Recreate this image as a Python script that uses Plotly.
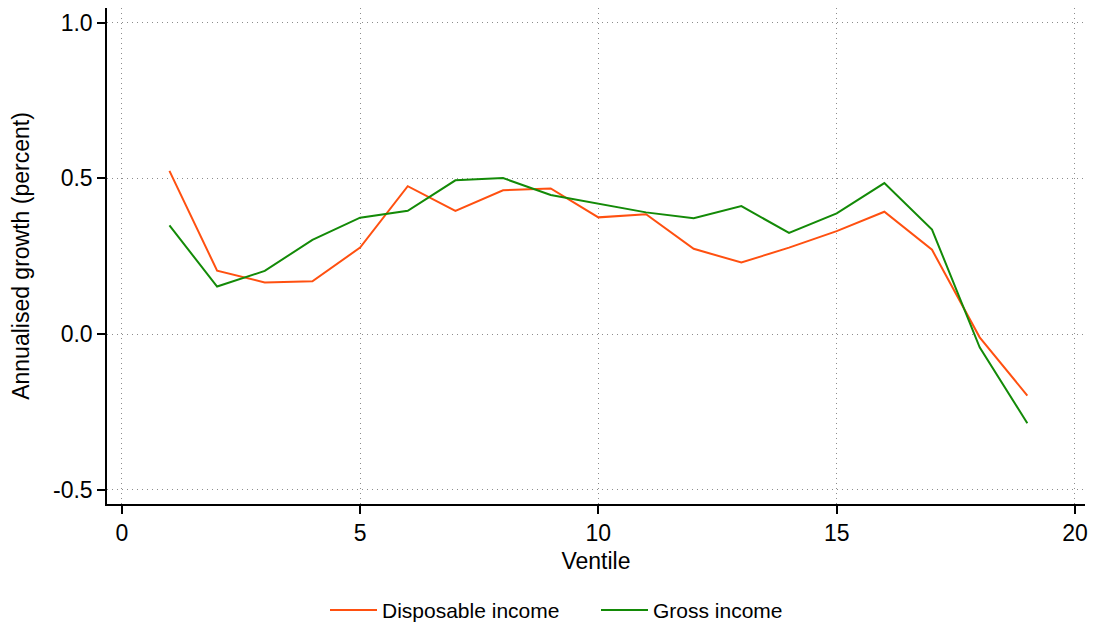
import plotly.graph_objects as go

# Annualised growth by income ventile
ventile = list(range(1, 20))
disposable_income = [0.524, 0.204, 0.166, 0.170, 0.278, 0.475, 0.396, 0.462, 0.468, 0.375,
                     0.385, 0.274, 0.230, 0.278, 0.331, 0.393, 0.271, -0.010, -0.197]
gross_income = [0.349, 0.153, 0.203, 0.303, 0.374, 0.396, 0.494, 0.501, 0.447, 0.419,
                0.391, 0.372, 0.411, 0.325, 0.388, 0.485, 0.336, -0.042, -0.286]

x_ticks = [0, 5, 10, 15, 20]
y_ticks = [-0.5, 0.0, 0.5, 1.0]
y_tick_labels = [f"{v:.1f}" for v in y_ticks]

FONT = "Liberation Sans, Arial, Helvetica, sans-serif"
FS = 23
LEGEND_FS = 21

fig = go.Figure()
fig.add_trace(go.Scatter(x=ventile, y=disposable_income, mode="lines",
                         name="Disposable income",
                         line=dict(color="#ff5010", width=2)))
fig.add_trace(go.Scatter(x=ventile, y=gross_income, mode="lines",
                         name="Gross income",
                         line=dict(color="#138a07", width=2)))

axis_common = dict(
    showline=True, linecolor="black", linewidth=1.5,
    ticks="outside", ticklen=8, tickwidth=1.5, tickcolor="black",
    showgrid=True, gridcolor="#8c8c8c", gridwidth=1, griddash="1px,4px",
    zeroline=False, mirror=False,
    tickfont=dict(family=FONT, size=FS, color="black"),
)

fig.update_xaxes(
    **axis_common,
    range=[-0.31, 20.21], tickvals=x_ticks,
    title=dict(text="Ventile", font=dict(family=FONT, size=FS, color="black"), standoff=8),
)
fig.update_yaxes(
    **axis_common,
    range=[-0.545, 1.047], tickvals=y_ticks, ticktext=y_tick_labels,
    title=dict(text="Annualised growth (percent)", font=dict(family=FONT, size=FS, color="black"), standoff=17),
)

fig.update_layout(
    width=1094, height=628,
    margin=dict(l=107, r=6, t=8, b=124),
    paper_bgcolor="white", plot_bgcolor="white",
    font=dict(family=FONT, size=FS, color="black"),
    legend=dict(orientation="h", x=0.5, xanchor="center",
                yref="container", y=0.028, yanchor="middle",
                font=dict(family=FONT, size=LEGEND_FS, color="black"),
                itemwidth=47, entrywidth=209, entrywidthmode="pixels"),
    showlegend=True,
)

fig.write_html("out.html")
